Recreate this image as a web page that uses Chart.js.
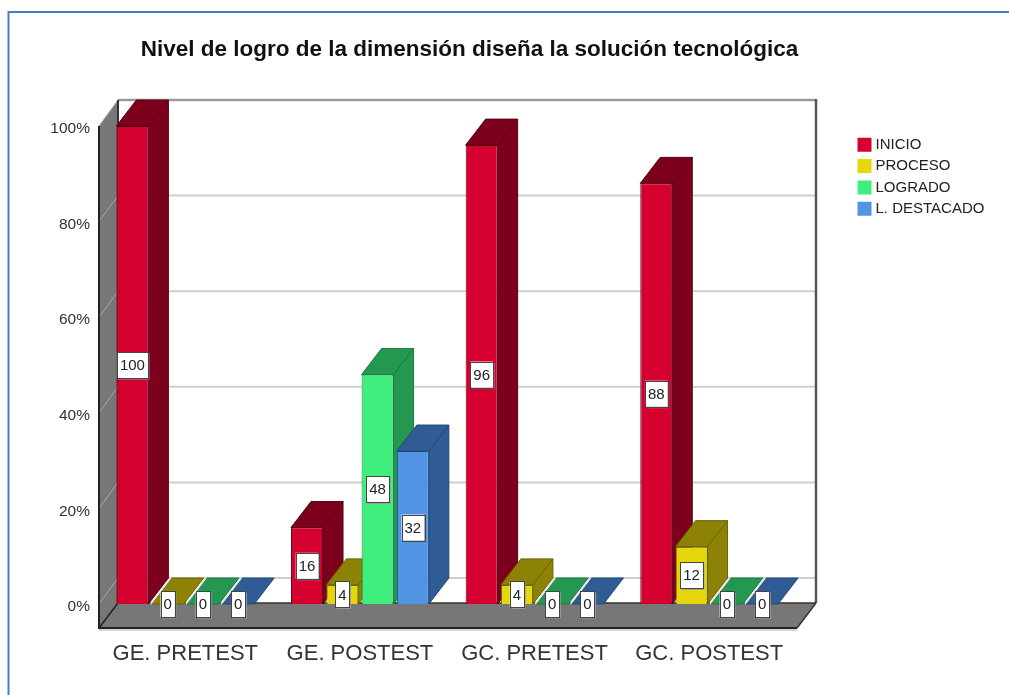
<!DOCTYPE html>
<html lang="es">
<head>
<meta charset="utf-8">
<title>Nivel de logro</title>
<style>html,body{margin:0;padding:0;background:#fff;overflow:hidden}canvas{display:block}</style>
<script src="https://cdn.jsdelivr.net/npm/chart.js@4"></script>
</head>
<body>
<canvas id="c" width="1009" height="695"></canvas>
<script>
const titleText = "Nivel de logro de la dimensión diseña la solución tecnológica";
const categories = ["GE. PRETEST", "GE. POSTEST", "GC. PRETEST", "GC. POSTEST"];
const inicio = [100, 16, 96, 88];
const proceso = [0, 4, 4, 12];
const logrado = [0, 48, 0, 0];
const destacado = [0, 32, 0, 0];
const seriesNames = ["INICIO", "PROCESO", "LOGRADO", "L. DESTACADO"];
const frontColors = ["#D60030", "#E6D70C", "#40EE7E", "#5294E4"];
const sideColors = ["#7D001C", "#8C8205", "#249750", "#2F5C94"];
const edgeColors = ["#5a0014", "#6b6404", "#1d7a40", "#24497a"];
const FONT = "'Liberation Sans', Arial, sans-serif";
const DX = 20, DY = -26;

function poly(ctx, pts, fill, stroke, lw) {
  ctx.beginPath();
  pts.forEach((p, i) => i ? ctx.lineTo(p[0], p[1]) : ctx.moveTo(p[0], p[1]));
  ctx.closePath();
  if (fill) { ctx.fillStyle = fill; ctx.fill(); }
  if (stroke) { ctx.strokeStyle = stroke; ctx.lineWidth = lw || 1; ctx.stroke(); }
}
function seg(ctx, a, b, color, lw) {
  ctx.beginPath(); ctx.moveTo(a[0], a[1]); ctx.lineTo(b[0], b[1]);
  ctx.strokeStyle = color; ctx.lineWidth = lw; ctx.stroke();
}

const frame = {
  id: "frame",
  afterLayout(chart) {
    const lg = chart.legend;
    const h = lg.bottom - lg.top;
    lg.left = 854.7; lg.right = 1005;
    lg.top = 131; lg.bottom = lg.top + h;
    chart.titleBlock.right = 939;
  },
  beforeDraw(chart) {
    const ctx = chart.ctx;
    ctx.save();
    ctx.fillStyle = "#ffffff";
    ctx.fillRect(0, 0, chart.width, chart.height);
    seg(ctx, [8.5, 12], [chart.width, 12], "#4A7CC6", 2);
    seg(ctx, [8.5, 11], [8.5, chart.height], "#4A7CC6", 2);
    ctx.restore();
  }
};

const box3d = {
  id: "box3d",
  beforeDatasetsDraw(chart) {
    const ctx = chart.ctx, y = chart.scales.y, a = chart.chartArea;
    const l = a.left + 1, r = a.right + 0.5;
    const top0 = y.getPixelForValue(100), base = y.getPixelForValue(0);
    const floorFront = base + 24, wallBottom = base - 1;
    ctx.save();
    poly(ctx, [[l, top0], [l + DX - 1, top0 + DY], [l + DX - 1, wallBottom], [l, floorFront]], "#777777");
    y.ticks.forEach(t => {
      const p = y.getPixelForValue(t.value);
      seg(ctx, [l, p], [l + DX - 1, p + DY], "#a9a9a9", 1);
      if (t.value < 100) seg(ctx, [l + DX - 1, p + DY], [r + DX - 1, p + DY], "#cfcfcf", 2);
    });
    poly(ctx, [[l, floorFront], [l + DX - 1, wallBottom], [r + DX - 1, wallBottom], [r, floorFront]], "#777777");
    seg(ctx, [l, floorFront + 2], [r, floorFront + 2], "#c8c8c8", 1.5);
    seg(ctx, [l + DX - 1, top0 + DY], [r + DX - 1, top0 + DY], "#9a9a9a", 2.5);
    seg(ctx, [r + DX - 1, top0 + DY - 1], [r + DX - 1, wallBottom], "#555555", 2.5);
    seg(ctx, [l + DX - 1, top0 + DY], [l + DX - 1, wallBottom], "#333333", 2);
    seg(ctx, [l, top0], [l, floorFront + 1], "#222222", 2);
    seg(ctx, [l - 1, floorFront], [r, floorFront], "#222222", 2);
    seg(ctx, [l, floorFront], [l + DX - 1, wallBottom], "#222222", 1.5);
    seg(ctx, [r, floorFront], [r + DX - 1, wallBottom], "#333333", 1.5);
    seg(ctx, [l + DX - 1, wallBottom], [r + DX - 1, wallBottom], "#333333", 1.5);
    const items = [];
    chart.data.datasets.forEach((ds, di) => {
      chart.getDatasetMeta(di).data.forEach((el, i) => items.push({ el, di, v: ds.data[i] }));
    });
    items.sort((p, q) => p.el.x - q.el.x);
    items.forEach(({ el, di, v }) => {
      const x0 = el.x - el.width / 2, x1 = el.x + el.width / 2, t = el.y, b = el.base;
      const side = sideColors[di], edge = edgeColors[di];
      if (v > 0) poly(ctx, [[x1, t], [x1 + DX, t + DY], [x1 + DX, b + DY], [x1, b]], side, edge, 1);
      poly(ctx, [[x0, t], [x0 + DX, t + DY], [x1 + DX, t + DY], [x1, t]], side, edge, 1);
      if (v === 0) seg(ctx, [x0 - 1, t], [x0 + DX - 1, t + DY], "#e6e6e6", 1.5);
    });
    ctx.restore();
  },
  afterDatasetsDraw(chart) {
    const ctx = chart.ctx;
    ctx.save();
    ctx.font = "15px " + FONT;
    ctx.textAlign = "center";
    ctx.textBaseline = "middle";
    chart.data.datasets.forEach((ds, di) => {
      chart.getDatasetMeta(di).data.forEach((el, i) => {
        const txt = String(ds.data[i]);
        const w = ctx.measureText(txt).width + 6, h = 26;
        const cx = el.x, cy = (el.y + el.base) / 2;
        ctx.fillStyle = "#9a9a9a";
        ctx.fillRect(cx - w / 2 + 1.5, cy - h / 2 + 1.5, w, h);
        ctx.fillStyle = "#ffffff";
        ctx.fillRect(cx - w / 2, cy - h / 2, w, h);
        ctx.strokeStyle = "#444444"; ctx.lineWidth = 1;
        ctx.strokeRect(Math.round(cx - w / 2) + .5, Math.round(cy - h / 2) + .5, Math.round(w), h);
        ctx.fillStyle = "#222222";
        ctx.fillText(txt, cx, cy + 1);
      });
    });
    ctx.restore();
  }
};

const seriesValues = [inicio, proceso, logrado, destacado];
new Chart(document.getElementById("c"), {
  type: "bar",
  data: {
    labels: categories,
    datasets: seriesNames.map((name, i) => ({
      label: name,
      data: seriesValues[i],
      backgroundColor: frontColors[i],
      borderColor: edgeColors[i],
      borderWidth: 1,
      categoryPercentage: 0.808,
      barPercentage: 0.907
    }))
  },
  options: {
    responsive: false,
    animation: false,
    layout: { padding: { left: 0, right: 92.5, top: 0, bottom: 0 } },
    plugins: {
      tooltip: { enabled: false },
      title: {
        display: true,
        text: titleText,
        color: "#111111",
        font: { family: FONT, size: 22.5, weight: "bold" },
        padding: { top: 36.5, bottom: 62.5 }
      },
      legend: {
        position: "right",
        align: "start",
        maxWidth: 120,
        labels: {
          color: "#222222",
          font: { family: FONT, size: 15 },
          boxWidth: 7,
          boxHeight: 7,
          padding: 6.3,
          generateLabels(chart) {
            return Chart.defaults.plugins.legend.labels.generateLabels(chart)
              .map(l => ({ ...l, lineWidth: 7, strokeStyle: l.fillStyle }));
          }
        }
      }
    },
    scales: {
      x: {
        grid: { display: false },
        border: { display: false },
        afterFit(s) { s.height = 91; },
        ticks: {
          color: "#333333",
          font: { family: FONT, size: 22 },
          padding: 29,
          labelOffset: 0,
          maxRotation: 0,
          autoSkip: false
        }
      },
      y: {
        min: 0,
        max: 100,
        grid: { display: false },
        border: { display: false },
        afterFit(s) { s.width = 98; },
        ticks: {
          stepSize: 20,
          color: "#333333",
          font: { family: FONT, size: 15.5 },
          padding: 0,
          labelOffset: 3,
          callback: v => v + "%"
        }
      }
    }
  },
  plugins: [frame, box3d]
});
</script>
</body>
</html>
